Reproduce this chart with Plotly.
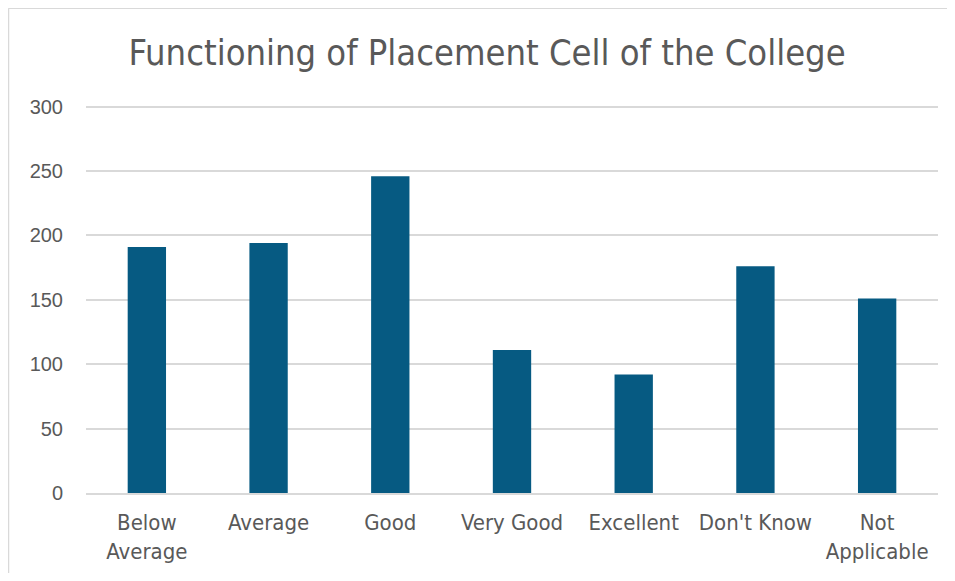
import plotly.graph_objects as go

categories = ["Below<br>Average", "Average", "Good", "Very Good", "Excellent", "Don't Know", "Not<br>Applicable"]
values = [191, 194, 246, 111, 92, 176, 151]
y_ticks = [0, 50, 100, 150, 200, 250, 300]

# page offset (body margin) is 8px; positions below are in page pixels
OFF = 8
W, H = 955 - 2 * OFF, 581 - 2 * OFF
Y_MAX = 302
px_per_unit = (492.7 - 106.7) / 300
plot_left, plot_right = 86, 938
plot_bottom = 492.7
plot_top = plot_bottom - Y_MAX * px_per_unit

L = plot_left - OFF
T = plot_top - OFF
R = W - L - (plot_right - plot_left)
B = H - T - (plot_bottom - plot_top)

fig = go.Figure(go.Bar(x=categories, y=values, marker=dict(color="#065A82", line=dict(width=0))))

pw = plot_right - plot_left
ph = plot_bottom - plot_top
bx = (OFF + 0.5 - plot_left) / pw
by = (plot_bottom - OFF - 0.5) / ph

fig.update_layout(
    width=W, height=H,
    margin=dict(l=L, r=R, t=T, b=B, pad=0),
    paper_bgcolor="white", plot_bgcolor="white",
    bargap=0.685,
    showlegend=False,
    title=dict(text="Functioning of Placement Cell of the College",
               x=(487 - OFF) / W, xanchor="center", y=1 - (52 - OFF) / H, yanchor="middle",
               font=dict(family="DejaVu Sans Condensed, Liberation Sans Narrow, sans-serif", size=36, color="#595959")),
    xaxis=dict(tickfont=dict(family="DejaVu Sans Condensed, Liberation Sans Narrow, sans-serif", size=22, color="#595959"),
               showgrid=False, showline=True, linecolor="#d9d9d9", linewidth=1.5,
               ticks="", ticklabelstandoff=9),
    yaxis=dict(range=[0, Y_MAX], tickvals=y_ticks, ticktext=[str(v) for v in y_ticks],
               tickfont=dict(family="Liberation Sans, Arial, sans-serif", size=20, color="#595959"),
               showgrid=True, gridcolor="#d9d9d9", gridwidth=1.5, zeroline=False,
               showline=False, ticks="", ticklabelstandoff=22),
    shapes=[
        dict(type="line", xref="paper", yref="paper", x0=bx, x1=2, y0=by, y1=by,
             line=dict(color="#d9d9d9", width=1.5)),
        dict(type="line", xref="paper", yref="paper", x0=bx, x1=bx, y0=-1, y1=by,
             line=dict(color="#d9d9d9", width=1.5)),
    ],
)

fig.write_html("out.html")
